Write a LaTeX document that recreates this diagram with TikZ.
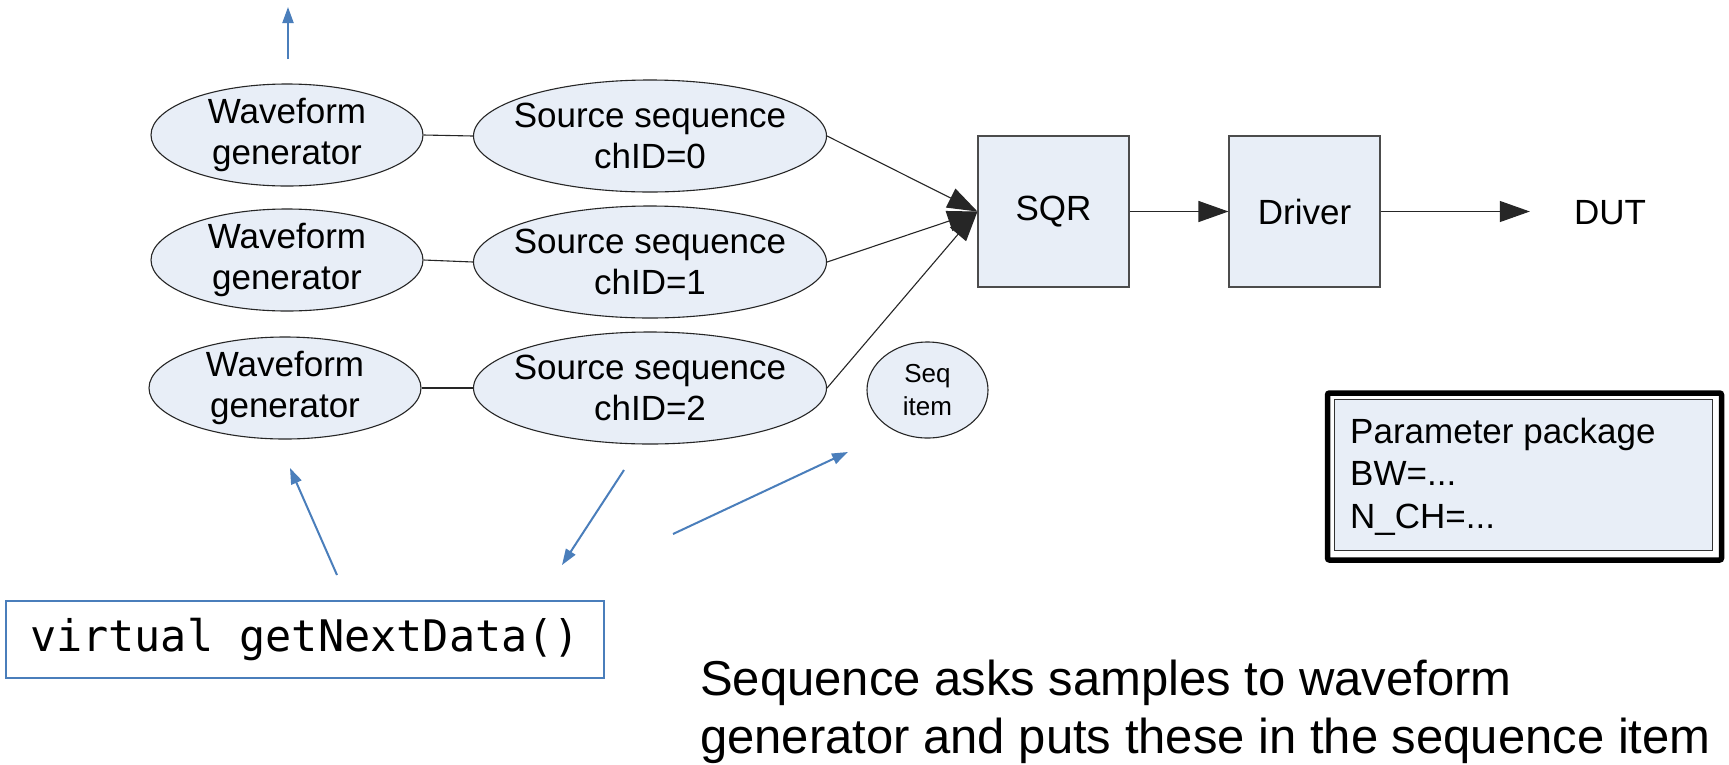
\documentclass[tikz,border=0pt]{standalone}
\usepackage{fontspec}
\setmainfont{Liberation Sans}
\newfontfamily\codefont{DejaVu Sans Mono}
\usetikzlibrary{shapes.geometric,arrows.meta,calc}
\definecolor{shapefill}{RGB}{232,238,247}
\definecolor{arrowblue}{RGB}{74,126,187}
\begin{document}
\begin{tikzpicture}[x=1pt,y=-1pt,
  ell/.style={ellipse, draw=black!85, line width=1.1pt, fill=shapefill, inner sep=0pt},
  lbl/.style={font=\fontsize{35}{41}\selectfont, align=center},
  box/.style={rectangle, draw=black!70, line width=1.1pt, fill=shapefill, minimum width=151pt, minimum height=151pt, inner sep=0pt, font=\fontsize{35}{41}\selectfont},
  link/.style={draw=black!85, line width=1.1pt},
  arr/.style={link, -{Triangle[length=30pt,width=21pt]}},
  barr/.style={draw=arrowblue, line width=2pt, -{Triangle[length=16pt,width=11pt]}}
]
\useasboundingbox (0,0) rectangle (1729,764);
\fill[white] (0,0) rectangle (1729,764);

% waveform generators
\node[ell, minimum width=272pt, minimum height=102pt, label={[lbl]center:Waveform\\generator}] (wg1) at (287,135) {};
\node[ell, minimum width=272pt, minimum height=102pt, label={[lbl]center:Waveform\\generator}] (wg2) at (287,260) {};
\node[ell, minimum width=272pt, minimum height=102pt, label={[lbl]center:Waveform\\generator}] (wg3) at (285,388) {};

% source sequences
\node[ell, minimum width=353pt, minimum height=112pt, label={[lbl]center:Source sequence\\chID=0}] (ss0) at (650,136) {};
\node[ell, minimum width=353pt, minimum height=112pt, label={[lbl]center:Source sequence\\chID=1}] (ss1) at (650,262) {};
\node[ell, minimum width=353pt, minimum height=112pt, label={[lbl]center:Source sequence\\chID=2}] (ss2) at (650,388) {};

% SQR, driver, DUT
\node[box] (sqr) at (1053.5,211.5) {SQR};
\node[box] (drv) at (1304.5,211.5) {Driver};
\node[font=\fontsize{35}{41}\selectfont, inner sep=0pt] (dut) at (1610,213) {DUT};

% seq item
\node[ell, minimum width=121pt, minimum height=96pt, label={[font=\fontsize{26}{33}\selectfont, align=center]center:Seq\\item}] (seq) at (927.5,390) {};

% parameter package
\draw[line width=5.5pt, rounded corners=2pt] (1327.5,393) rectangle (1721.5,560);
\node[rectangle, draw=black!80, line width=1pt, fill=shapefill, minimum width=378pt, minimum height=151pt, inner sep=0pt] (param) at (1523,475) {};
\node[anchor=base west, inner sep=0pt, font=\fontsize{35}{42.5}\selectfont] (paramtext) at (1350,443) {\vtop{\hbox{Parameter package}\hbox{BW=...}\hbox{N\_CH=...}}};

% code box
\node[draw=arrowblue, line width=2pt, fill=white, minimum width=598pt, minimum height=77pt, inner sep=0pt, font=\codefont\fontsize{43.5}{50}\selectfont] (code) at (305,639.5) {virtual getNextData()};

% note
\node[anchor=base west, inner sep=0pt, font=\fontsize{49}{58}\selectfont] (note) at (700,695) {\vtop{\hbox{Sequence asks samples to waveform}\hbox{generator and puts these in the sequence item}}};

% connectors
\draw[link] (wg1.east) -- (ss0.west);
\draw[link] (wg2.east) -- (ss1.west);
\draw[link] (wg3.east) -- (ss2.west);
\draw[arr] (ss0.east) -- (sqr.west);
\draw[arr] (ss1.east) -- (sqr.west);
\draw[arr] (ss2.east) -- (sqr.west);
\draw[arr] (sqr.east) -- (drv.west);
\draw[arr, shorten >=44pt] (drv.east) -- (drv.east -| dut.west);

% blue arrows
\coordinate (t0) at (288,59);
\coordinate (t1) at (288,7);
\coordinate (a0) at (337,575);
\coordinate (a1) at (290,468);
\coordinate (b0) at (624,470);
\coordinate (b1) at (562,565);
\coordinate (c0) at (673,534);
\coordinate (c1) at (848,452);
\draw[barr] (t0) -- (t1);
\draw[barr] (a0) -- (a1);
\draw[barr] (b0) -- (b1);
\draw[barr] (c0) -- (c1);
\end{tikzpicture}
\end{document}
